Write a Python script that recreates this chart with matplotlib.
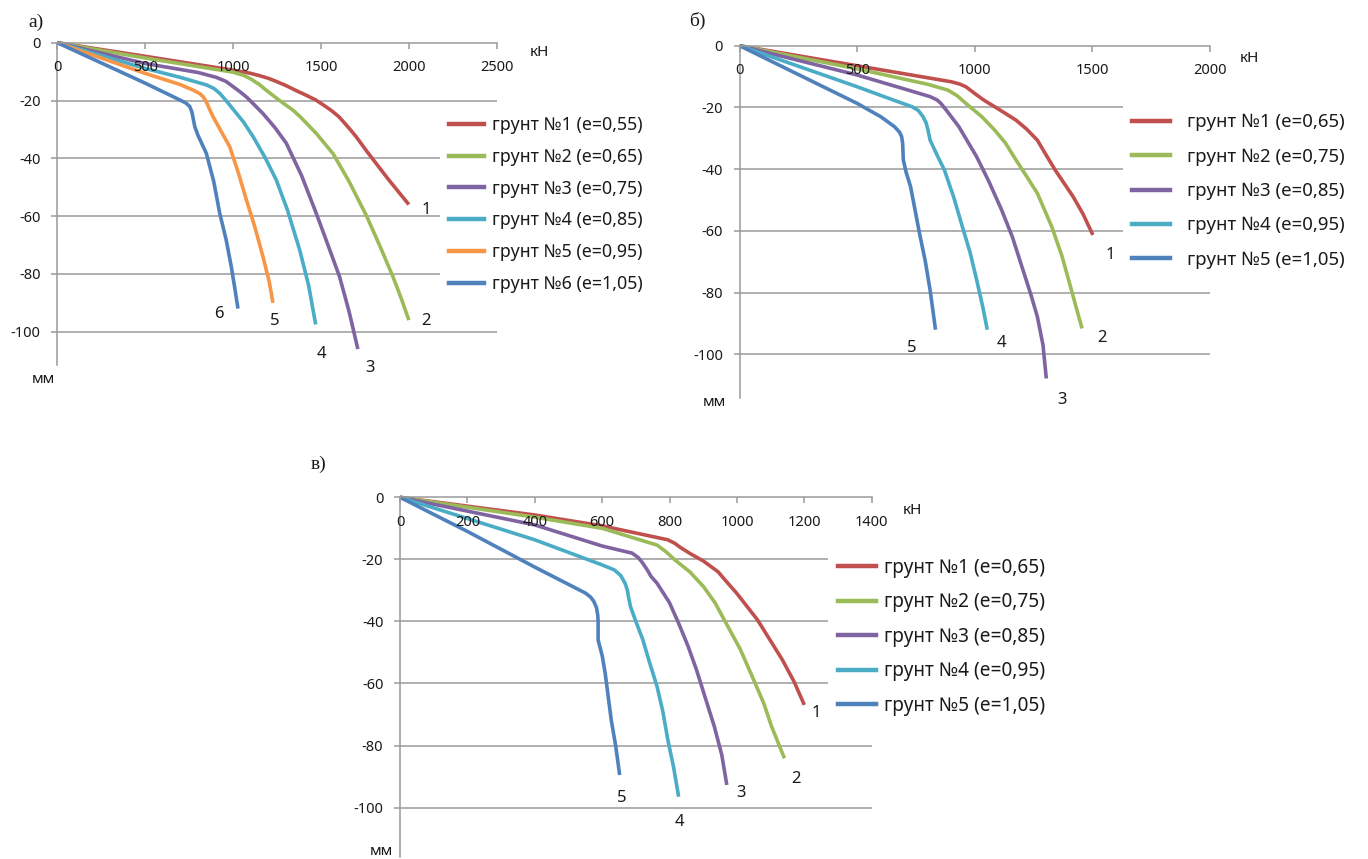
import matplotlib
matplotlib.use("Agg")
import matplotlib.pyplot as plt
from matplotlib.lines import Line2D

plt.rcParams['font.family'] = ['Noto Sans', 'DejaVu Sans']

W, H = 1368, 859

# ---------------- data ----------------
colors6 = ['#C0504D', '#9BBB59', '#8064A2', '#4BACC6', '#F79646', '#4F81BD']
colors5 = ['#C0504D', '#9BBB59', '#8064A2', '#4BACC6', '#4F81BD']

# panel a
a_labels = ['грунт №1 (e=0,55)', 'грунт №2 (e=0,65)', 'грунт №3 (e=0,75)',
            'грунт №4 (e=0,85)', 'грунт №5 (e=0,95)', 'грунт №6 (e=1,05)']
a1_x = [0, 500, 1000, 1100, 1150, 1200, 1250, 1300, 1350, 1420, 1470, 1520, 1560, 1600, 1630, 1670, 1700, 1760, 1880, 2000]
a1_y = [0, -4.7, -9.5, -10.6, -11.4, -12.3, -13.5, -14.8, -16.3, -18.3, -19.8, -21.8, -23.5, -25.5, -27.5, -30.3, -32.5, -37.5, -47, -56]
a2_x = [0, 500, 1000, 1060, 1100, 1150, 1190, 1260, 1340, 1380, 1420, 1475, 1520, 1570, 1660, 1760, 1840, 1910, 1960, 2000]
a2_y = [0, -5.3, -10.2, -11.3, -12.5, -14.5, -16.5, -19.8, -23.3, -25.5, -28, -31.5, -34.8, -38.5, -48, -60, -71, -81, -89, -96]
a3_x = [0, 500, 800, 905, 960, 1000, 1040, 1080, 1170, 1240, 1303, 1390, 1473, 1540, 1606, 1660, 1710]
a3_y = [0, -7.2, -10.3, -12, -13.4, -15.2, -17, -19, -24.5, -29.5, -34.8, -46, -59, -70, -81, -93, -106]
a4_x = [0, 500, 700, 848, 890, 924, 960, 1000, 1060, 1114, 1180, 1246, 1310, 1379, 1430, 1470]
a4_y = [0, -8.9, -12, -14.6, -15.8, -17.5, -20, -23, -27.5, -32.5, -39.5, -47.5, -58, -71.7, -84, -97.5]
a5_x = [0, 500, 700, 773, 810, 830, 848, 866, 886, 940, 981, 1030, 1076, 1125, 1170, 1205, 1227]
a5_y = [0, -10.6, -14.5, -16.4, -17.6, -18.7, -20.5, -23, -25.6, -31.5, -36, -45, -54.4, -64, -74, -82.5, -90]
a6_x = [0, 500, 697, 730, 754, 766, 774, 782, 800, 848, 890, 924, 960, 990, 1010, 1028]
a6_y = [0, -14, -19.8, -20.8, -22.1, -24, -26.5, -29, -32, -38.3, -48, -59, -68, -77.5, -85, -92]
a_num_x = [2098, 2095, 1780, 1502, 1237, 919]
a_num_y = [-57.9, -96.3, -112.7, -107.8, -96.3, -94]

# panel б
b_labels = ['грунт №1 (e=0,65)', 'грунт №2 (e=0,75)', 'грунт №3 (e=0,85)',
            'грунт №4 (e=0,95)', 'грунт №5 (e=1,05)']
b1_x = [0, 500, 901, 935, 962, 1000, 1038, 1100, 1175, 1220, 1266, 1300, 1342, 1418, 1460, 1502]
b1_y = [0, -6.5, -11.7, -12.4, -13.3, -15.5, -17.6, -20.5, -24.1, -27, -30.6, -35, -40.3, -48.9, -54.5, -61.3]
b2_x = [0, 500, 800, 886, 925, 962, 1030, 1084, 1130, 1175, 1220, 1266, 1327, 1370, 1403, 1430, 1456]
b2_y = [0, -7.5, -12.5, -14.4, -16.2, -18.7, -23, -27.3, -31.5, -37, -42.3, -47.8, -58.6, -68, -77, -84.5, -91.6]
b3_x = [0, 500, 700, 810, 840, 856, 880, 900, 932, 1008, 1060, 1114, 1160, 1205, 1240, 1266, 1290, 1304]
b3_y = [0, -9.5, -14, -16.5, -17.6, -18.7, -21, -23, -26.2, -36, -44, -53.2, -62, -72.7, -81, -87.8, -97, -107.8]
b4_x = [0, 500, 650, 734, 760, 780, 793, 800, 810, 840, 871, 910, 947, 980, 1008, 1035, 1053]
b4_y = [0, -13.3, -17.5, -19.8, -21, -23, -25, -27, -30.6, -35.5, -40.3, -49, -58.6, -67, -75.9, -85, -92]
b5_x = [0, 500, 600, 658, 680, 689, 693, 694, 696, 708, 727, 765, 790, 810, 833]
b5_y = [0, -18.7, -23, -26.2, -28, -29.5, -31.5, -33, -37, -41, -45.7, -60.8, -70, -79.2, -92]
b_num_x = [1578, 1540, 1373, 1114, 734]
b_num_y = [-67.8, -94.8, -114.8, -96.4, -98]

# panel в
c_labels = b_labels
c1_x = [0, 400, 600, 795, 815, 830, 859, 900, 944, 970, 1000, 1061, 1135, 1170, 1200]
c1_y = [0, -5.7, -9.2, -13.7, -14.8, -16, -18, -20.5, -24, -27.3, -31, -39.5, -52.4, -59.5, -66.9]
c2_x = [0, 400, 600, 763, 790, 816, 860, 901, 935, 965, 1010, 1050, 1080, 1103, 1141]
c2_y = [0, -6.4, -10, -15.4, -17.6, -20.2, -24, -28.8, -34, -40, -49, -58.9, -66.5, -73.9, -84.1]
c3_x = [0, 400, 600, 689, 708, 721, 735, 745, 763, 800, 827, 855, 880, 933, 955, 970]
c3_y = [0, -8.9, -15.7, -18, -19.5, -21.3, -23.6, -25.5, -27.7, -34, -40.6, -48, -55.6, -73.9, -83, -92.7]
c4_x = [0, 400, 600, 636, 655, 668, 675, 678, 684, 700, 721, 740, 763, 780, 795, 812, 827]
c4_y = [0, -13.7, -21.8, -23.4, -25.2, -27.7, -30, -32, -35.2, -40, -46, -53, -61, -69, -78.2, -87, -96.5]
c5_x = [0, 200, 400, 551, 566, 575, 583, 587, 588, 588, 600, 609, 627, 640, 652]
c5_y = [0, -11, -22.5, -30.9, -32.2, -33.5, -35.5, -38, -40, -46, -51, -56.7, -71.8, -80, -89.5]
c_num_x = [1236, 1176, 1013, 829, 657]
c_num_y = [-69.6, -90.9, -95.4, -104.8, -97]

y_ticks = [0, -20, -40, -60, -80, -100]
a_xticks = [0, 500, 1000, 1500, 2000, 2500]
b_xticks = [0, 500, 1000, 1500, 2000]
c_xticks = [0, 200, 400, 600, 800, 1000, 1200, 1400]

GRID = '#9a9a9a'
TXT = '#1a1a1a'

fig = plt.figure(figsize=(W / 100, H / 100), dpi=100)


def px_box(left, top, right, bottom):
    return [left / W, 1 - bottom / H, (right - left) / W, (bottom - top) / H]


def make_panel(rect, xlim, ylim_bottom, xticks, series, colors, labels, nums,
               num_x, num_y, leg_anchor, leg_fs, leg_hpad, leg_spacing,
               kn_xy, mm_xy):
    ax = fig.add_axes(rect)
    ax.set_xlim(*xlim)
    ax.set_ylim(ylim_bottom, 0)
    for s in ['top', 'right']:
        ax.spines[s].set_visible(False)
    ax.spines['bottom'].set_position(('data', 0))
    for s in ['left', 'bottom']:
        ax.spines[s].set_color(GRID)
        ax.spines[s].set_linewidth(1.1)
    ax.set_xticks(xticks)
    ax.set_xticklabels([str(t) for t in xticks])
    ax.set_yticks(y_ticks)
    ax.set_yticklabels([str(t) for t in y_ticks])
    ax.tick_params(axis='x', direction='out', length=4, width=1.1, color=GRID,
                   pad=8.5, labelsize=10.5, labelcolor=TXT)
    ax.tick_params(axis='y', direction='out', length=4, width=1.1, color=GRID,
                   pad=8, labelsize=10.5, labelcolor=TXT)
    # gridlines below the curves, axis (tick labels) above them
    for yt in y_ticks[1:]:
        ax.axhline(yt, color=GRID, linewidth=1.1, zorder=0.5)
    ax.set_axisbelow(False)
    handles = []
    for (xs, ys), col in zip(series, colors):
        ax.plot(xs, ys, color=col, lw=2.6, solid_capstyle='butt',
                solid_joinstyle='round', clip_on=False, zorder=2)
        handles.append(Line2D([], [], color=col, lw=3.2))
    for n, x, y in zip(nums, num_x, num_y):
        ax.text(x, y, n, ha='center', va='center', fontsize=12, color=TXT,
                clip_on=False, zorder=6)
    leg = ax.legend(handles, labels, loc='upper left',
                    bbox_to_anchor=(leg_anchor[0] / W, 1 - leg_anchor[1] / H),
                    bbox_transform=fig.transFigure, frameon=True,
                    facecolor='white', edgecolor='none', framealpha=1,
                    fancybox=False, fontsize=leg_fs, borderpad=0.5,
                    handlelength=2.0, handletextpad=leg_hpad,
                    labelspacing=leg_spacing, borderaxespad=0)
    leg.set_zorder(5)
    for t in leg.get_texts():
        t.set_color(TXT)
    ax.text(kn_xy[0], kn_xy[1], 'кН', ha='center', va='center', fontsize=11,
            color=TXT, clip_on=False)
    ax.text(mm_xy[0], mm_xy[1], 'мм', ha='center', va='center', fontsize=11,
            color=TXT, clip_on=False)
    return ax


# panel a
make_panel(px_box(57.3, 42.7, 496.7, 42.7 + 111.5 * 2.89), (0, 2500), -111.5,
           a_xticks,
           [(a1_x, a1_y), (a2_x, a2_y), (a3_x, a3_y), (a4_x, a4_y), (a5_x, a5_y), (a6_x, a6_y)],
           colors6, a_labels, ['1', '2', '3', '4', '5', '6'], a_num_x, a_num_y,
           (440, 107), 12.8, 0.4, 0.78, (2746, -3.5), (-78, -116.7))

# panel б
make_panel(px_box(739.6, 45.7, 1210.0, 45.7 + 114 * 3.087), (0, 2000), -114,
           b_xticks,
           [(b1_x, b1_y), (b2_x, b2_y), (b3_x, b3_y), (b4_x, b4_y), (b5_x, b5_y)],
           colors5, b_labels, ['1', '2', '3', '4', '5'], b_num_x, b_num_y,
           (1123, 104), 13.4, 0.95, 0.88, (2166, -4), (-109, -115.7))

# panel в
make_panel(px_box(400.0, 497.3, 871.7, 497.3 + 116 * 3.103), (0, 1400), -116,
           c_xticks,
           [(c1_x, c1_y), (c2_x, c2_y), (c3_x, c3_y), (c4_x, c4_y), (c5_x, c5_y)],
           colors5, c_labels, ['1', '2', '3', '4', '5'], c_num_x, c_num_y,
           (828, 548.5), 13.7, 0.45, 0.76, (1520, -4.4), (-56, -114))

# panel titles
for txt, x, y in [('а)', 28, 22), ('б)', 689, 21), ('в)', 311, 464)]:
    fig.text(x / W, 1 - y / H, txt, ha='left', va='center', fontsize=14,
             family='Liberation Serif', color=TXT)

fig.savefig('out.png', dpi=100, facecolor='white')
